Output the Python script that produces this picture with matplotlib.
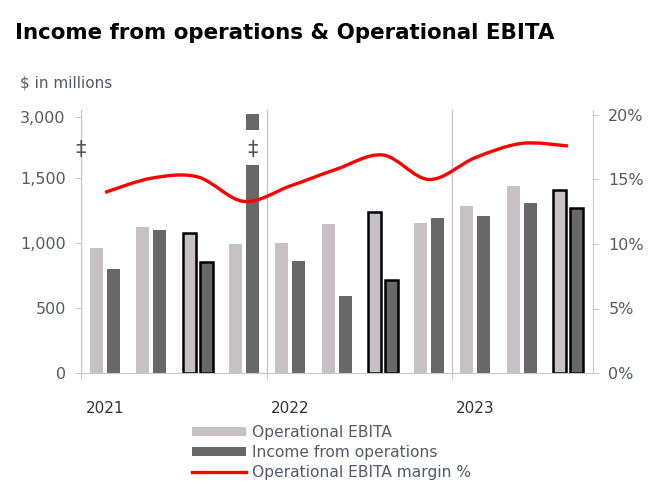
import numpy as np
import matplotlib
matplotlib.use('Agg')
from matplotlib import pyplot as plt
from matplotlib.path import Path
from matplotlib.patches import PathPatch, Patch, Rectangle
from matplotlib.lines import Line2D

# quarterly figures, $ millions and %
quarters = ['Q1 21', 'Q2 21', 'Q3 21', 'Q4 21', 'Q1 22', 'Q2 22', 'Q3 22', 'Q4 22', 'Q1 23', 'Q2 23', 'Q3 23']
op_ebita = [962, 1123, 1077, 992, 1000, 1148, 1241, 1152, 1284, 1438, 1405]
income_ops = [800, 1100, 856, 3070, 862, 592, 714, 1192, 1208, 1305, 1272]
margin = [14.0, 15.1, 15.2, 13.3, 14.5, 15.8, 16.9, 15.0, 16.7, 17.8, 17.6]
highlight = [2, 6, 10]
years = ['2021', '2022', '2023']
year_pos = [0, 4, 8]
left_ticks = [0, 500, 1000, 1500, 3000]
right_ticks = [0, 5, 10, 15, 20]

C_EBITA = '#c7c1c5'
C_INC = '#686868'
C_AXIS = '#c8c8c8'
C_TXT = '#55596a'

plt.rcParams['font.family'] = ['DejaVu Sans']

# broken left axis: above 1,500 everything is squeezed
K = 0.313
def fwd(y):
    y = np.asarray(y, dtype=float)
    return np.where(y <= 1500, y, 1500 + (y - 1500) * K)
def inv(u):
    u = np.asarray(u, dtype=float)
    return np.where(u <= 1500, u, 1500 + (u - 1500) / K)

fig = plt.figure(figsize=(6.67, 4.92), dpi=100)
ax = fig.add_axes([81/667, 119/492, 512/667, 263/492])
ax.set_yscale('function', functions=(fwd, inv))

x = np.arange(len(quarters))
w = 0.28
off = 0.184
ec_e = ['black' if i in highlight else 'none' for i in x]
lw = [1.8 if i in highlight else 0 for i in x]
ax.bar(x - off, op_ebita, w, color=C_EBITA, edgecolor=ec_e, linewidth=lw, zorder=2)
ax.bar(x + off, income_ops, w, color=C_INC, edgecolor=ec_e, linewidth=lw, zorder=2)

# the break on the tall bar
ax.add_patch(Rectangle((3 + off - w/2 - 0.05, 1820), w + 0.1, 860, facecolor='white',
                       edgecolor='none', zorder=3))
ax.text(3 + off, 2180, '‡', ha='center', va='center', fontsize=15, color='#555555', zorder=4)
ax.text(-0.52, 2180, '‡', ha='center', va='center', fontsize=15, color='#555555', zorder=4,
        clip_on=False)

ax.set_xlim(-0.52, len(quarters) - 0.46)
ax.set_ylim(0, 3170)
ax.set_yticks(left_ticks)
ax.set_yticklabels(['{:,}'.format(t) for t in left_ticks])
ax.set_xticks([-0.52, 3.5, 7.5])
ax.set_xticklabels([])
ax.set_xticks(year_pos, minor=True)
ax.set_xticklabels(years, minor=True)
ax.tick_params(axis='x', which='major', length=4, color=C_AXIS, direction='out')
ax.tick_params(axis='x', which='minor', length=0, pad=20, labelsize=11, labelcolor='#333333')
ax.tick_params(axis='y', length=4, color=C_AXIS, labelsize=11.5, labelcolor=C_TXT, pad=7)
ax.grid(axis='x', which='major', color=C_AXIS, linewidth=1)
ax.set_axisbelow(True)
for s in ['top', 'right']:
    ax.spines[s].set_visible(False)
for s in ['left', 'bottom']:
    ax.spines[s].set_color(C_AXIS)

# margin line, smoothed like the spreadsheet does it
ax2 = ax.twinx()
ax2.set_ylim(0, 263/12.9)
pts = np.column_stack([x, margin])
ext = np.vstack([pts[0], pts, pts[-1]])
verts = [tuple(pts[0])]
codes = [Path.MOVETO]
for i in range(len(pts) - 1):
    p0, p1, p2, p3 = ext[i], ext[i+1], ext[i+2], ext[i+3]
    verts += [tuple(p1 + (p2 - p0) / 6), tuple(p2 - (p3 - p1) / 6), tuple(p2)]
    codes += [Path.CURVE4] * 3
ax2.add_patch(PathPatch(Path(verts, codes), facecolor='none', edgecolor='red', lw=2.4,
                        capstyle='butt', zorder=5))
ax2.set_yticks(right_ticks)
ax2.set_yticklabels(['{}%'.format(t) for t in right_ticks])
ax2.tick_params(axis='y', length=4, color=C_AXIS, labelsize=11.5, labelcolor=C_TXT, pad=7)
for s in ['top', 'left', 'bottom']:
    ax2.spines[s].set_visible(False)
ax2.spines['right'].set_color(C_AXIS)

fig.text(15/667, 1 - 33/492, 'Income from operations & Operational EBITA', fontsize=15.4,
         fontweight='bold', va='center', ha='left', color='black')
fig.text(20/667, 1 - 83/492, '$ in millions', fontsize=11, va='center', ha='left', color=C_TXT)

handles = [Patch(facecolor=C_EBITA), Patch(facecolor=C_INC), Line2D([], [], color='red', lw=2.4)]
labels = ['Operational EBITA', 'Income from operations', 'Operational EBITA margin %']
fig.legend(handles, labels, loc='upper left', bbox_to_anchor=(192/667, 1 - 425/492),
           frameon=False, fontsize=11.2, handlelength=3.5, handleheight=0.5, handletextpad=0.35,
           labelspacing=0.33, borderpad=0, borderaxespad=0, labelcolor=C_TXT)

fig.savefig('out.png', dpi=100)
